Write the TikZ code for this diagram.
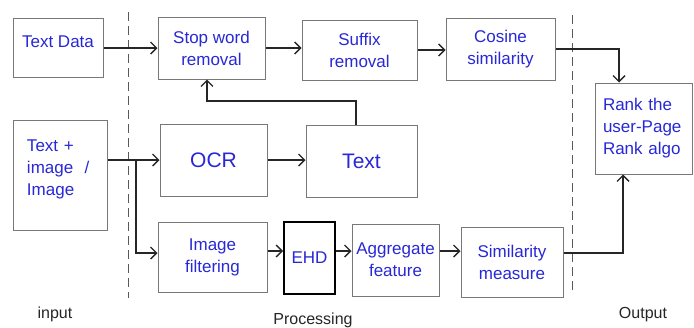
\documentclass[tikz,border=0pt]{standalone}
\usepackage{fontspec}
\setmainfont{Liberation Sans}
\usetikzlibrary{arrows.meta}
\definecolor{tblue}{RGB}{40,40,215}
\definecolor{bgrey}{RGB}{120,120,120}
\begin{document}
\begin{tikzpicture}[x=1pt,y=-1pt,
  box/.style={draw=bgrey,line width=1pt,rectangle,inner sep=2pt,align=center,text=tblue,font=\fontsize{17}{22}\selectfont},
  bigtxt/.style={font=\fontsize{21}{24}\selectfont},
  arr/.style={line width=1.7pt,draw=black!85,-{Straight Barb[length=6pt,width=12pt,line width=1.4pt]}},
  divider/.style={draw=black!65,line width=1pt,dash pattern=on 9pt off 5pt},
  lbl/.style={font=\fontsize{16}{18}\selectfont,text=black!85}
]
\fill[white] (0,0) rectangle (694,327);
\useasboundingbox (0,0) rectangle (694,327);

% dividers
\draw[divider] (128,12) -- (128,298);
\draw[divider] (572,15) -- (572,290);

% boxes
\node[box,minimum width=90pt,minimum height=59pt,text depth=12pt] (td) at (58,47.5) {Text Data};
\node[box,minimum width=107pt,minimum height=62pt] (sw) at (211.5,48) {Stop word\\removal};
\node[box,minimum width=115pt,minimum height=60pt] (sr) at (359.5,50) {Suffix\\removal};
\node[box,minimum width=109pt,minimum height=62pt] (cs) at (500.5,49) {Cosine\\similarity};
\node[box,minimum height=91pt,inner xsep=8pt,text width=81pt,align=left] (rank) at (643.5,128.5) {Rank the\\user-Page\\Rank algo};
\node[box,minimum height=110pt,inner xsep=14pt,text width=66pt,align=left] (ti) at (60,175) {Text +\\image~~/\\Image\\[-8pt]\mbox{}};
\node[box,bigtxt,minimum width=107pt,minimum height=72pt] (ocr) at (213.5,160) {OCR};
\node[box,bigtxt,minimum width=111pt,minimum height=72pt] (txt) at (361.5,161) {Text};
\node[box,minimum width=109pt,minimum height=70pt] (if) at (212.5,257) {Image\\filtering};
\node[box,draw=black,line width=1.7pt,minimum width=51pt,minimum height=72pt] (ehd) at (309.5,258) {EHD};
\node[box,minimum width=87pt,minimum height=72pt] (ag) at (395.5,260) {Aggregate\\feature};
\node[box,minimum width=102pt,minimum height=70pt] (sm) at (512,262) {Similarity\\measure};

% labels
\node[lbl] (lin) at (55,314) {input};
\node[lbl] (lproc) at (313,320) {Processing};
\node[lbl] (lout) at (643,315) {Output};

% helper coordinates
\coordinate (yrow) at (0,251);
\coordinate (br) at (136,160);
\coordinate (cx) at (619,0);
\coordinate (sx) at (623,0);
\coordinate (fbt) at (356,101);
\coordinate (fbs) at (207,101);

% connectors
\draw[arr] (td.east |- 0,48) -- (sw.west |- 0,48);
\draw[arr] (sw.east) -- (sw.east -| sr.west);
\draw[arr] (sr.east) -- (sr.east -| cs.west);
\draw[arr] (cs.east) -| (cx |- rank.north);
\draw[arr] (ti.east |- ocr.west) -- (ocr.west);
\draw[arr] (br) |- (if.west |- 0,253);
\draw[arr] (ocr.east) -- (ocr.east -| txt.west);
\draw[arr] (fbt |- txt.north) -- (fbt) -- (fbs) -- (fbs |- sw.south);
\draw[arr] (if.east |- yrow) -- (ehd.west |- yrow);
\draw[arr] (ehd.east |- yrow) -- (ag.west |- yrow);
\draw[arr] (ag.east |- yrow) -- (sm.west |- yrow);
\draw[arr] (sm.east |- 0,253) -| (sx |- rank.south);
\end{tikzpicture}
\end{document}
